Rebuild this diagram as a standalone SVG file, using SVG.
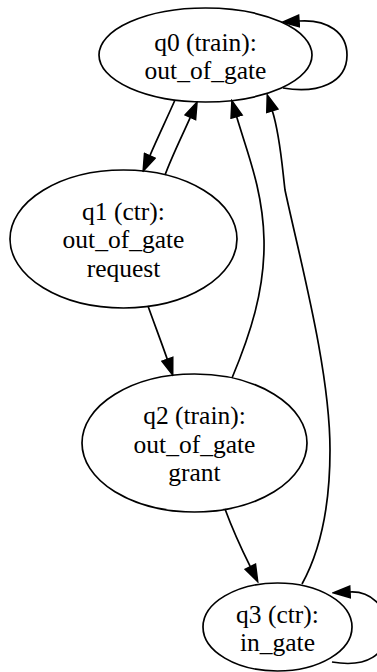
<svg xmlns="http://www.w3.org/2000/svg" width="377" height="672" viewBox="0 0 377 672">
<style>
  .node ellipse { fill: none; stroke: #000; stroke-width: 1.7; }
  .node text { font-family: "Liberation Serif", "Times New Roman", serif; font-size: 25.5px; text-anchor: middle; fill: #000; }
  .edges path { fill: none; stroke: #000; stroke-width: 1.7; marker-end: url(#arrow); }
</style>
<defs>
  <marker id="arrow" markerUnits="userSpaceOnUse" viewBox="-1 -7 19 14" refX="0" refY="0" markerWidth="19" markerHeight="14" orient="auto">
    <path d="M0,-5.8 L16.7,0 L0,5.8 Z" fill="#000" stroke="#000" stroke-width="1.5"/>
  </marker>
</defs>
<rect width="377" height="672" fill="#fff"/>
<g id="q0" class="node">
  <ellipse cx="205.5" cy="55" rx="106.5" ry="47"/>
  <text x="205.5" y="51">q0 (train):</text>
  <text x="205.5" y="79">out_of_gate</text>
</g>
<g id="q1" class="node">
  <ellipse cx="123.5" cy="239" rx="113.5" ry="69"/>
  <text x="123.5" y="220">q1 (ctr):</text>
  <text x="123.5" y="248">out_of_gate</text>
  <text x="123.5" y="277">request</text>
</g>
<g id="q2" class="node">
  <ellipse cx="194.5" cy="443" rx="112.5" ry="69"/>
  <text x="194.5" y="424">q2 (train):</text>
  <text x="194.5" y="453">out_of_gate</text>
  <text x="194.5" y="481">grant</text>
</g>
<g id="q3" class="node">
  <ellipse cx="277.5" cy="627" rx="74.5" ry="44"/>
  <text x="277.5" y="623">q3 (ctr):</text>
  <text x="277.5" y="651">in_gate</text>
</g>
<g id="edges" class="edges">
  <path id="e_q0_q0" d="M283,88 C318,94 347,83 347,55 C347,33 328,19 299,21"/>
  <path id="e_q0_q1" d="M175,100 C167,118 158,137 149.8,155.8"/>
  <path id="e_q1_q0" d="M165,175 C172,156 182,136 190.3,117.3"/>
  <path id="e_q1_q2" d="M148,306 C154,323 161,341 167.3,359.3"/>
  <path id="e_q2_q0" d="M232,378 C250,335 265,290 264,240 C263,190 247,152 236.6,116.6"/>
  <path id="e_q2_q3" d="M225,509 C232,528 241,548 250.3,566.7"/>
  <path id="e_q3_q0" d="M302,584 C318,555 330,515 330,450 C330,370 300,260 285,190 C282,165 280,135 272.3,110.8"/>
  <path id="e_q3_q3" d="M332,662 C367,668 387,655 387,628 C387,606 370,591 350,592"/>
</g>
</svg>
